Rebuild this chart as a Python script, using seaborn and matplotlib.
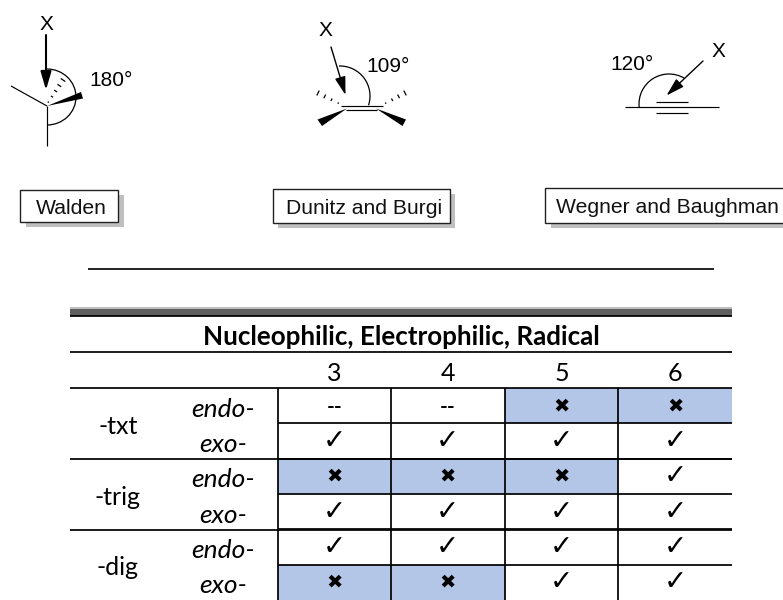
import numpy as np
import matplotlib
matplotlib.use("Agg")
import matplotlib.pyplot as plt
from matplotlib.colors import ListedColormap
from matplotlib.patches import Arc, Polygon, Rectangle
from matplotlib.transforms import ScaledTranslation
import seaborn as sns

# table content
TABLE_TITLE = "Nucleophilic, Electrophilic, Radical"
ring_sizes = ["3", "4", "5", "6"]
modes = ["endo-", "exo-", "endo-", "exo-", "endo-", "exo-"]
groups = ["-txt", "-trig", "-dig"]
status = [
    ["--", "--", "x", "x"],
    ["ok", "ok", "ok", "ok"],
    ["x", "x", "x", "ok"],
    ["ok", "ok", "ok", "ok"],
    ["ok", "ok", "ok", "ok"],
    ["x", "x", "ok", "ok"],
]
GLYPHS = {"ok": "\u2713", "x": "\u2716", "--": "--"}

# captions above the table
captions = ["Walden", "Dunitz and Burgi", "Wegner and Baughman"]
angles = ["180°", "109°", "120°"]

SANS = "Liberation Sans"
TABLE_FONT = ["Lato", "DejaVu Sans"]
BLUE = "#B4C6E7"
W, H = 783, 600


def line(ax, xs, ys, lw=0.85, color="black"):
    ax.plot(xs, ys, color=color, lw=lw, solid_capstyle="butt")


def arrow(ax, start, end, lw=1.0):
    ax.annotate("", xy=end, xytext=start,
                arrowprops=dict(arrowstyle="-|>,head_length=0.65,head_width=0.19",
                                mutation_scale=17, lw=lw, color="black",
                                shrinkA=0, shrinkB=0))


def hashed(ax, start, end, n=4, w0=1.5, w1=5.5):
    """Hashed bond: short strokes across start->end that get longer."""
    start, end = np.array(start, float), np.array(end, float)
    d = (end - start) / np.linalg.norm(end - start)
    perp = np.array([-d[1], d[0]])
    for t, w in zip(np.linspace(0.08, 1, n), np.linspace(w0, w1, n)):
        p = start + (end - start) * t
        a, b = p - perp * w / 2, p + perp * w / 2
        line(ax, [a[0], b[0]], [a[1], b[1]], lw=0.9)


def caption_box(ax, x0, x1, y0, y1, text, tx, sx=6, sy=5):
    ax.add_patch(Rectangle((x0 + sx, y0 + sy), x1 - x0, y1 - y0, fc="#bfbfbf", ec="none"))
    ax.add_patch(Rectangle((x0, y0), x1 - x0, y1 - y0, fc="white", ec="#222222", lw=1.0))
    ax.text(tx, (y0 + y1) / 2 + 2, text, ha="center", va="center",
            family=SANS, fontsize=15.2, color="#111111")


sns.set_theme(style="white")
plt.rcParams["font.family"] = TABLE_FONT

fig = plt.figure(figsize=(W / 100, H / 100), dpi=100, facecolor="white")

# table body, heatmap sits on the pixel box of the 6x4 grid
left, right, top, bottom = 277.5, 732, 388, 600
ax = fig.add_axes([left / W, 1 - bottom / H, (right - left) / W, (bottom - top) / H])
flags = np.array([[1 if c == "x" else 0 for c in row] for row in status])
labels = np.array([[GLYPHS[c] for c in row] for row in status])
sns.heatmap(flags, ax=ax, cmap=ListedColormap(["white", BLUE]), vmin=0, vmax=1, cbar=False,
            annot=labels, fmt="", annot_kws=dict(color="black", family=TABLE_FONT),
            xticklabels=ring_sizes, yticklabels=modes, linewidths=0)
for txt in ax.texts:
    if txt.get_text() == GLYPHS["x"]:
        txt.set_fontsize(14)
    elif txt.get_text() == GLYPHS["ok"]:
        txt.set_fontsize(20)
    else:
        txt.set_fontsize(15)
        txt.set_fontweight("bold")
        txt.set_y(txt.get_position()[1] + 0.05)
ax.hlines(range(1, 6), 0, 4, color="black", lw=1.25)
ax.vlines(range(0, 4), 0, 6, color="black", lw=1.25, clip_on=False)
ax.xaxis.tick_top()
ax.tick_params(axis="x", length=0, pad=2.5, labelsize=18, labelcolor="black", rotation=0)
ax.tick_params(axis="y", length=0, pad=39, labelsize=19, labelcolor="black", rotation=0)
for lab in ax.get_yticklabels():
    lab.set_ha("center")
    lab.set_style("italic")
    # italic labels sit a little under the row centre in the original
    lab.set_transform(lab.get_transform() + ScaledTranslation(0, -2.5 / 72, fig.dpi_scale_trans))
for i, name in enumerate(groups):
    ax.text(-1.404, 2 * i + 1.09, name, ha="center", va="center", fontsize=18, color="black")
for spine in ax.spines.values():
    spine.set_visible(False)

# overlay in pixel coordinates for rules and the three sketches
ov = fig.add_axes([0, 0, 1, 1], zorder=3)
ov.set_xlim(0, W)
ov.set_ylim(H, 0)
ov.axis("off")
ov.patch.set_alpha(0)

# table rules
ov.add_patch(Rectangle((70, 307), 662, 2.5, fc="#bdbdbd", ec="none"))
ov.add_patch(Rectangle((70, 309), 662, 6.5, fc="#5f5f5f", ec="none"))
for y in [316, 352, 388, 458.5, 529.5]:
    line(ov, [70, 732], [y, y], lw=1.25)
ov.text(401, 337, TABLE_TITLE, ha="center", va="center", fontsize=18.7, fontweight="bold", color="black")
line(ov, [88, 714], [269, 269], lw=1.2)

# Walden sketch
ov.text(46, 25, "X", ha="center", va="center", family=SANS, fontsize=15, color="black")
ov.text(89, 80, angles[0], ha="left", va="center", family=SANS, fontsize=15, color="black")
arrow(ov, (46, 35), (46, 90), lw=1.5)
ov.add_patch(Arc((47, 97), 58, 56, theta1=-90, theta2=90, color="black", lw=0.9))
line(ov, [11, 47], [86, 106])
line(ov, [47, 47], [106, 146])
ov.add_patch(Polygon([(47, 106), (81, 92), (83, 98.5)], fc="black", ec="none"))
hashed(ov, (47, 104), (63, 80), n=5)

# Dunitz and Burgi sketch
ov.text(325.5, 30, "X", ha="center", va="center", family=SANS, fontsize=15, color="black")
ov.text(366, 66, angles[1], ha="left", va="center", family=SANS, fontsize=15, color="black")
arrow(ov, (331, 47), (345.5, 95))
ov.add_patch(Arc((340, 96), 60, 60, theta1=-92, theta2=18, color="black", lw=0.9))
line(ov, [341, 383], [105.5, 105.5])
line(ov, [346, 377], [109.5, 109.5])
ov.add_patch(Polygon([(347, 108.5), (317.5, 119.5), (322, 126)], fc="black", ec="none"))
ov.add_patch(Polygon([(376, 108.5), (406, 119.5), (402.5, 126)], fc="black", ec="none"))
hashed(ov, (340, 104), (318, 93))
hashed(ov, (384, 104), (405, 93))

# Wegner and Baughman sketch
ov.text(718.5, 51.5, "X", ha="center", va="center", family=SANS, fontsize=15, color="black")
ov.text(610.5, 65, angles[2], ha="left", va="center", family=SANS, fontsize=15, color="black")
arrow(ov, (703, 61), (666.5, 95.5))
ov.add_patch(Arc((669, 104), 60, 60, theta1=174, theta2=301, color="black", lw=0.9))
line(ov, [625, 719], [107, 107])
line(ov, [656, 688], [101.5, 101.5])
line(ov, [656, 688], [112.5, 112.5])

# caption boxes
caption_box(ov, 20, 118, 190, 222, captions[0], 71)
caption_box(ov, 272.5, 450, 189, 223, captions[1], 364, sx=5)
caption_box(ov, 544.5, 790, 188, 223, captions[2], 667.5)

fig.savefig("out.png", dpi=100)
